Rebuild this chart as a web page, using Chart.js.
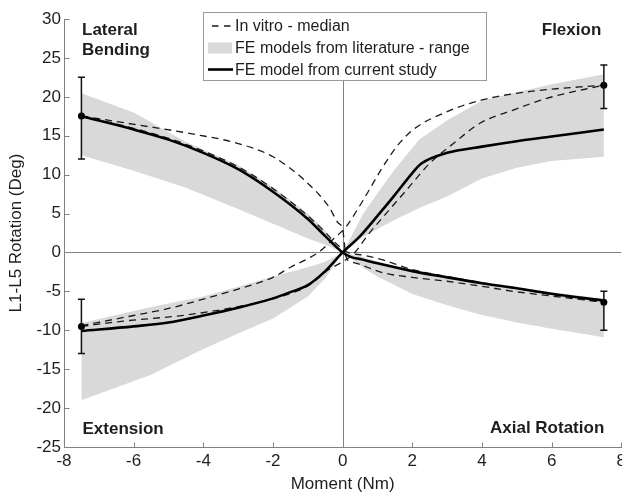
<!DOCTYPE html>
<html>
<head>
<meta charset="utf-8">
<script src="https://cdn.jsdelivr.net/npm/chart.js@4.4.0/dist/chart.umd.min.js"></script>
<style>
  html, body { margin: 0; padding: 0; background: #fff; overflow: hidden; }
  #wrap { width: 630px; height: 495px; }
</style>
</head>
<body>
<div id="wrap"><canvas id="chart" width="630" height="495"></canvas></div>
<script>
// axis ticks
const xTicks = [-8, -6, -4, -2, 0, 2, 4, 6, 8];
const yTicks = [-25, -20, -15, -10, -5, 0, 5, 10, 15, 20, 25, 30];

// FE model from current study (flexion/extension and lateral bending/axial rotation)
const feMoment = [-7.5, -6, -5, -4, -3, -2, -1.5, -1, -0.5, 0, 0.5, 1, 1.5, 2, 2.25, 3, 4, 5, 6, 7.5];
const feModel = [-10.1, -9.5, -9.0, -8.1, -7.1, -5.9, -5.1, -4.2, -2.4, 0, 2.1, 4.7, 7.4, 10.2, 11.4, 12.8, 13.6, 14.3, 14.9, 15.8];
const lrMoment = [-7.5, -6, -5, -4, -3, -2, -1, -0.5, 0, 0.25, 0.5, 1, 2, 3, 4, 5, 6, 7.5];
const lrModel = [17.5, 15.8, 14.5, 12.8, 10.7, 7.8, 4.3, 2.1, 0, -0.6, -0.85, -1.4, -2.4, -3.2, -3.95, -4.6, -5.3, -6.2];

// in vitro median (loading / unloading branches)
const vitroFeAx = [-7.5, -6, -5, -4, -3, -2, -1.5, -1, -0.7, -0.2, 0, 0.1, 0.6, 1.1, 1.55, 2, 3, 4, 5.4, 7.5];
const vitroFeA = [-9.4, -8.1, -7.2, -6.0, -4.7, -3.2, -1.9, -0.8, 0, 2.0, 2.8, 3.3, 6.8, 10.6, 13.6, 15.7, 18.1, 19.6, 20.7, 21.5];
const vitroFeBx = [-7.5, -6.35, -4.43, -2.7, -1.8, -1, -0.4, 0, 0.35, 0.7, 1.17, 1.84, 2.51, 3.18, 3.94, 4.9, 5.86, 7.5];
const vitroFeB = [-9.5, -8.85, -8.0, -6.7, -5.7, -4.3, -2.2, -1.2, 0, 2.1, 4.6, 8.05, 11.5, 14.0, 16.6, 18.3, 19.8, 21.5];
const vitroLrAx = [-7.5, -5.9, -4.4, -3, -2, -1.1, -0.4, -0.13, 0, 0.1, 0.2, 0.5, 1.2, 2, 3, 4, 4.9, 6, 7.5];
const vitroLrA = [17.55, 16.4, 15.3, 14.0, 12.3, 9.3, 5.9, 3.8, 3.0, -0.6, -1.1, -1.55, -2.65, -3.2, -3.7, -4.35, -5.0, -5.6, -6.4];
const vitroLrBx = [-7.5, -6, -4.5, -3, -2, -1, -0.5, -0.2, 0.15, 0.6, 1.1, 2, 3, 4, 5, 6, 7.5];
const vitroLrB = [17.5, 15.95, 13.9, 11.0, 8.2, 4.7, 2.6, 1.2, 0, -0.35, -0.9, -2.2, -3.1, -3.9, -4.65, -5.4, -6.4];

// FE models from literature - range, one band per load case
const lbBandX = [-7.5, -6, -4.5, -3, -2, -1, -0.5, 0];
const lbBandHi = [20.45, 18.0, 14.2, 11.2, 8.4, 5.0, 2.8, 0];
const lbBandLo = [12.5, 10.5, 8.3, 5.6, 3.7, 1.8, 1.0, 0];
const flBandX = [0, 0.6, 1, 1.5, 2.2, 3, 4, 5, 6, 7.5];
const flBandHi = [0, 5.05, 7.6, 10.7, 14.5, 17.0, 19.5, 20.6, 21.6, 22.9];
const flBandLo = [0, 2.05, 3.0, 4.2, 5.7, 7.2, 9.5, 10.9, 11.75, 12.3];
const exBandX = [-7.5, -5.5, -4, -3, -2, -1, -0.5, 0];
const exBandHi = [-9.06, -7.0, -5.65, -4.4, -3.1, -1.9, -1.2, 0];
const exBandLo = [-19, -15.7, -12.4, -10.4, -8.5, -5.65, -3.3, 0];
const arBandX = [0, 0.6, 1, 2, 3, 4, 5, 6, 7.5];
const arBandHi = [0, -0.6, -1.2, -2.2, -3.0, -3.75, -4.45, -5.1, -5.95];
const arBandLo = [0, -2.0, -3.1, -5.35, -6.8, -8.05, -9.0, -9.8, -10.9];

// in vitro median with error bars at +-7.5 Nm
const errMoment = [-7.5, 7.5, -7.5, 7.5];
const errMean = [17.55, 21.5, -9.5, -6.4];
const errLow = [12.0, 18.5, -13.0, -10.0];
const errHigh = [22.5, 24.1, -6.0, -5.0];

const legendLabels = ["In vitro - median", "FE models from literature - range", "FE model from current study"];
const quadrantLabels = [["Lateral", "Bending"], ["Flexion"], ["Extension"], ["Axial Rotation"]];

const FONT = '"Liberation Sans", Arial, sans-serif';
const BAND = "#d9d9d9";
const AXIS = "#808080";
const TEXT = "#1e1e1e";

const pts = (xs, ys) => xs.map((x, i) => ({ x, y: ys[i] }));

const solid = (data) => ({
  data, borderColor: "#000", borderWidth: 2.6, pointRadius: 0,
  fill: false, cubicInterpolationMode: "monotone", order: 1,
});
const dashed = (data) => ({
  data, borderColor: "#1a1a1a", borderWidth: 1.3, borderDash: [7, 5], pointRadius: 0,
  fill: false, cubicInterpolationMode: "monotone", order: 1,
});
const bandHi = (data) => ({
  data, borderWidth: 0, borderColor: "rgba(0,0,0,0)", pointRadius: 0,
  backgroundColor: BAND, fill: "+1", order: 3,
});
const bandLo = (data) => ({
  data, borderWidth: 0, borderColor: "rgba(0,0,0,0)", pointRadius: 0, fill: false, order: 3,
});

// zero lines, axis lines and inward ticks
const axesLines = {
  id: "axesLines",
  beforeDatasetsDraw(chart) {
    const { ctx, chartArea: a, scales: { x, y } } = chart;
    ctx.save();
    ctx.strokeStyle = AXIS;
    ctx.lineWidth = 1;
    const x0 = Math.round(x.getPixelForValue(0)) + 0.5;
    const y0 = Math.round(y.getPixelForValue(0)) + 0.5;
    const L = Math.round(a.left) + 0.5;
    const B = Math.round(a.bottom) + 0.5;
    ctx.beginPath();
    ctx.moveTo(x0, a.top);
    ctx.lineTo(x0, B);
    ctx.moveTo(L, y0);
    ctx.lineTo(a.right, y0);
    ctx.moveTo(L, a.top);
    ctx.lineTo(L, B);
    ctx.lineTo(a.right + 10, B);
    yTicks.forEach((v) => {
      const p = Math.round(y.getPixelForValue(v)) + 0.5;
      ctx.moveTo(L, p);
      ctx.lineTo(L + 5, p);
    });
    xTicks.forEach((v) => {
      const p = Math.round(x.getPixelForValue(v)) + 0.5;
      ctx.moveTo(p, B);
      ctx.lineTo(p, B - 5);
    });
    ctx.stroke();
    ctx.restore();
  },
};

const errorBars = {
  id: "errorBars",
  afterDatasetsDraw(chart) {
    const { ctx, scales: { x, y } } = chart;
    ctx.save();
    ctx.strokeStyle = "#111";
    ctx.lineWidth = 1.5;
    ctx.beginPath();
    errMoment.forEach((m, i) => {
      const px = x.getPixelForValue(m);
      const lo = y.getPixelForValue(errLow[i]);
      const hi = y.getPixelForValue(errHigh[i]);
      ctx.moveTo(px, lo);
      ctx.lineTo(px, hi);
      ctx.moveTo(px - 3.5, lo);
      ctx.lineTo(px + 3.5, lo);
      ctx.moveTo(px - 3.5, hi);
      ctx.lineTo(px + 3.5, hi);
    });
    ctx.stroke();
    ctx.restore();
  },
};

const annotations = {
  id: "annotations",
  afterDraw(chart) {
    const { ctx, chartArea: a } = chart;
    ctx.save();
    // quadrant labels
    ctx.fillStyle = TEXT;
    ctx.font = "bold 17px " + FONT;
    ctx.textBaseline = "alphabetic";
    ctx.textAlign = "left";
    ctx.fillText(quadrantLabels[0][0], a.left + 18, a.top + 16);
    ctx.fillText(quadrantLabels[0][1], a.left + 18, a.top + 36);
    ctx.fillText(quadrantLabels[2][0], a.left + 18.5, a.bottom - 13);
    ctx.textAlign = "right";
    ctx.fillText(quadrantLabels[1][0], a.right - 20, a.top + 16);
    ctx.fillText(quadrantLabels[3][0], a.right - 17, a.bottom - 14.5);

    // legend box
    const lx = a.left + 139, ly = a.top - 7, lw = 283, lh = 68;
    ctx.fillStyle = "#fff";
    ctx.fillRect(lx, ly, lw, lh);
    ctx.strokeStyle = "#9a9a9a";
    ctx.lineWidth = 1;
    ctx.strokeRect(Math.round(lx) + 0.5, Math.round(ly) + 0.5, lw, lh);
    const rows = [ly + 14, ly + 36, ly + 57.5];
    ctx.strokeStyle = "#1a1a1a";
    ctx.lineWidth = 1.3;
    ctx.setLineDash([6.5, 5.5]);
    ctx.beginPath();
    ctx.moveTo(lx + 9, rows[0]);
    ctx.lineTo(lx + 31, rows[0]);
    ctx.stroke();
    ctx.setLineDash([]);
    ctx.fillStyle = BAND;
    ctx.fillRect(lx + 5, rows[1] - 5.5, 24, 11);
    ctx.strokeStyle = "#000";
    ctx.lineWidth = 2.6;
    ctx.beginPath();
    ctx.moveTo(lx + 5, rows[2]);
    ctx.lineTo(lx + 30, rows[2]);
    ctx.stroke();
    ctx.fillStyle = TEXT;
    ctx.font = "16px " + FONT;
    ctx.textAlign = "left";
    ctx.textBaseline = "middle";
    legendLabels.forEach((t, i) => ctx.fillText(t, lx + 32, rows[i] + 1));
    ctx.restore();
  },
};

new Chart(document.getElementById("chart"), {
  type: "line",
  data: {
    datasets: [
      { data: pts(errMoment, errMean), showLine: false, pointRadius: 3.5, pointBackgroundColor: "#000", pointBorderWidth: 0, order: 0 },
      solid(pts(feMoment, feModel)),
      solid(pts(lrMoment, lrModel)),
      dashed(pts(vitroFeAx, vitroFeA)),
      dashed(pts(vitroFeBx, vitroFeB)),
      dashed(pts(vitroLrAx, vitroLrA)),
      dashed(pts(vitroLrBx, vitroLrB)),
      bandHi(pts(lbBandX, lbBandHi)),
      bandLo(pts(lbBandX, lbBandLo)),
      bandHi(pts(flBandX, flBandHi)),
      bandLo(pts(flBandX, flBandLo)),
      bandHi(pts(exBandX, exBandHi)),
      bandLo(pts(exBandX, exBandLo)),
      bandHi(pts(arBandX, arBandHi)),
      bandLo(pts(arBandX, arBandLo)),
    ],
  },
  options: {
    responsive: false,
    animation: false,
    layout: { padding: { top: 19, left: 0, right: 0, bottom: 0 } },
    plugins: {
      legend: { display: false },
      tooltip: { enabled: false },
    },
    scales: {
      x: {
        type: "linear",
        min: -8,
        max: 8,
        afterBuildTicks: (s) => { s.ticks = xTicks.map((v) => ({ value: v })); },
        afterFit: (s) => { s.height = 48; },
        grid: { display: false, drawTicks: false },
        border: { display: false },
        ticks: { padding: 4, color: TEXT, font: { family: FONT, size: 17 }, maxRotation: 0, autoSkip: false },
        title: { display: true, text: "Moment (Nm)", color: TEXT, font: { family: FONT, size: 17 }, padding: { top: 0, bottom: 0 } },
      },
      y: {
        type: "linear",
        min: -25,
        max: 30,
        afterBuildTicks: (s) => { s.ticks = yTicks.map((v) => ({ value: v })); },
        afterFit: (s) => { s.width = 64; },
        grid: { display: false, drawTicks: false },
        border: { display: false },
        ticks: { padding: 3, color: TEXT, font: { family: FONT, size: 17 } },
        title: { display: true, text: "L1-L5 Rotation (Deg)", color: TEXT, font: { family: FONT, size: 17 }, padding: { top: 6, bottom: 0 } },
      },
    },
  },
  plugins: [axesLines, errorBars, annotations],
});
</script>
</body>
</html>
